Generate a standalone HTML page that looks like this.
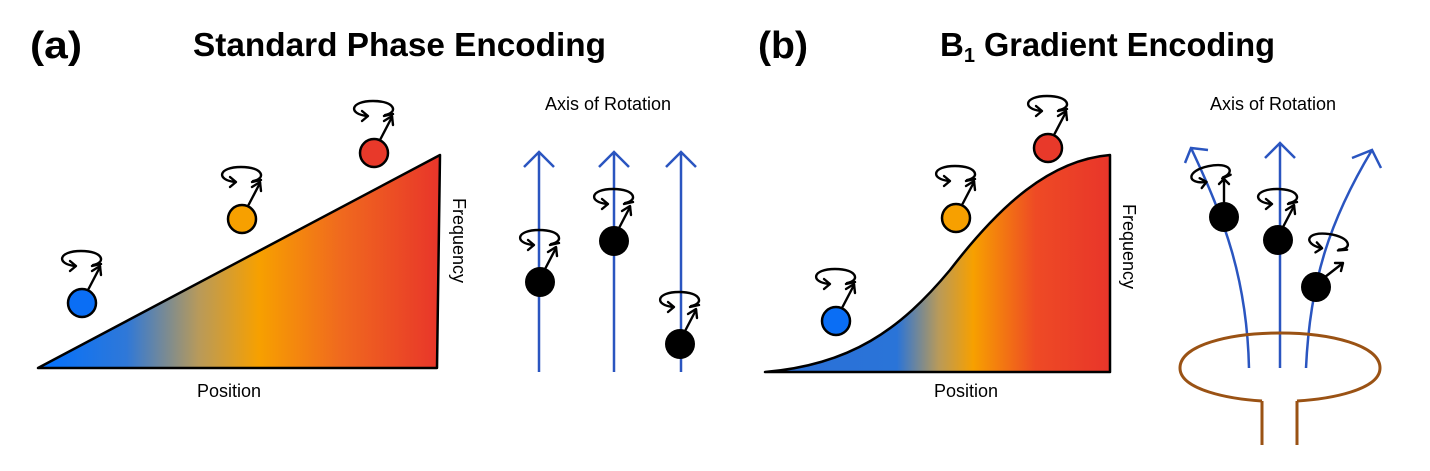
<!DOCTYPE html>
<html><head><meta charset="utf-8"><style>
html,body{margin:0;padding:0;background:#fff;}
svg{display:block;font-family:"Liberation Sans",Arial,sans-serif;}
</style></head><body>
<svg width="1430" height="471" viewBox="0 0 1430 471" xmlns="http://www.w3.org/2000/svg">
<defs>
<linearGradient id="ga" x1="38" y1="0" x2="440" y2="0" gradientUnits="userSpaceOnUse">
<stop offset="0" stop-color="#0070ff"/><stop offset="0.22" stop-color="#2f78d8"/>
<stop offset="0.4" stop-color="#b89a5a"/><stop offset="0.55" stop-color="#f7a000"/>
<stop offset="0.75" stop-color="#f06a1e"/><stop offset="1" stop-color="#e8352a"/></linearGradient>
<linearGradient id="gb" x1="765" y1="0" x2="1112" y2="0" gradientUnits="userSpaceOnUse">
<stop offset="0" stop-color="#2a6fd8"/><stop offset="0.38" stop-color="#2a74d8"/>
<stop offset="0.5" stop-color="#b89a5a"/><stop offset="0.6" stop-color="#f7a000"/>
<stop offset="0.78" stop-color="#ee4a25"/><stop offset="1" stop-color="#e8352a"/></linearGradient>
<g id="rot" fill="none" stroke="#000" stroke-width="2.4" stroke-linecap="round" stroke-linejoin="round">
<path d="M12,6 C25,4 23,-8 0,-8 C-23,-8 -25,5 -6,7"/>
<path d="M-11,2 L-5,7 L-11,12"/>
<path d="M11,7 L20,5"/>
</g>
<g id="stem" fill="none" stroke="#000" stroke-width="2.4" stroke-linecap="round" stroke-linejoin="round">
<path d="M6,-13 L18,-36"/><path d="M10,-32 L18,-37 L19,-28"/>
</g>
</defs>

<text x="30" y="58" font-size="38" font-weight="bold" textLength="52" lengthAdjust="spacingAndGlyphs">(a)</text>
<text x="193" y="56" font-size="33" font-weight="bold" textLength="413" lengthAdjust="spacingAndGlyphs">Standard Phase Encoding</text>
<text x="758" y="58" font-size="38" font-weight="bold" textLength="50" lengthAdjust="spacingAndGlyphs">(b)</text>
<text x="940" y="56" font-size="33" font-weight="bold">B<tspan font-size="20" dy="6">1</tspan><tspan dy="-6" textLength="300" lengthAdjust="spacingAndGlyphs"> Gradient Encoding</tspan></text>

<!-- panel a -->
<path d="M38,368 L440,155 L437,368 Z" fill="url(#ga)" stroke="#000" stroke-width="2.5" stroke-linejoin="round"/>
<text x="197" y="397" font-size="18">Position</text>
<text transform="translate(453,198) rotate(90)" font-size="18">Frequency</text>

<g transform="translate(82,303)"><circle r="14" fill="#0a6ef5" stroke="#000" stroke-width="2.5"/><use href="#stem"/><use href="#rot" transform="translate(-1,-44)"/></g>
<g transform="translate(242,219)"><circle r="14" fill="#f7a000" stroke="#000" stroke-width="2.5"/><use href="#stem"/><use href="#rot" transform="translate(-1,-44)"/></g>
<g transform="translate(374,153)"><circle r="14" fill="#e8392a" stroke="#000" stroke-width="2.5"/><use href="#stem"/><use href="#rot" transform="translate(-1,-44)"/></g>

<text x="545" y="110" font-size="18">Axis of Rotation</text>
<g fill="none" stroke="#2a55c0" stroke-width="2.5">
<path d="M539,372 V152 M524,167 L539,152 L554,167"/>
<path d="M614,372 V152 M599,167 L614,152 L629,167"/>
<path d="M681,372 V152 M666,167 L681,152 L696,167"/>
</g>
<g transform="translate(540,282)"><circle r="15" fill="#000"/><use href="#stem" transform="translate(-2,2)"/><use href="#rot" transform="translate(-1,-44)"/></g>
<g transform="translate(614,241)"><circle r="15" fill="#000"/><use href="#stem" transform="translate(-2,2)"/><use href="#rot" transform="translate(-1,-44)"/></g>
<g transform="translate(680,344)"><circle r="15" fill="#000"/><use href="#stem" transform="translate(-2,2)"/><use href="#rot" transform="translate(-1,-44)"/></g>

<!-- panel b -->
<path d="M765,372 C850,365 900,330 950,270 C1000,205 1050,160 1110,155 L1110,372 Z" fill="url(#gb)" stroke="#000" stroke-width="2.5" stroke-linejoin="round"/>
<text x="934" y="397" font-size="18">Position</text>
<text transform="translate(1123,204) rotate(90)" font-size="18">Frequency</text>

<g transform="translate(836,321)"><circle r="14" fill="#0a6ef5" stroke="#000" stroke-width="2.5"/><use href="#stem"/><use href="#rot" transform="translate(-1,-44)"/></g>
<g transform="translate(956,218)"><circle r="14" fill="#f7a000" stroke="#000" stroke-width="2.5"/><use href="#stem"/><use href="#rot" transform="translate(-1,-44)"/></g>
<g transform="translate(1048,148)"><circle r="14" fill="#e8392a" stroke="#000" stroke-width="2.5"/><use href="#stem"/><use href="#rot" transform="translate(-1,-44)"/></g>

<text x="1210" y="110" font-size="18">Axis of Rotation</text>
<g fill="none" stroke="#2a55c0" stroke-width="2.5">
<path d="M1249,368 C1247,280 1225,220 1191,148 M1185,163 L1191,148 L1208,150"/>
<path d="M1280,368 V143 M1265,158 L1280,143 L1295,158"/>
<path d="M1306,368 C1310,280 1330,220 1372,150 M1352,158 L1372,150 L1381,168"/>
</g>
<g fill="none" stroke="#9a5214" stroke-width="3">
<path d="M1262,401 C1230,399 1180,390 1180,368 C1180,345 1230,333 1280,333 C1330,333 1380,345 1380,368 C1380,390 1330,399 1297,401"/>
<path d="M1262,401 V445 M1297,401 V445"/>
</g>
<g transform="translate(1224,217)"><circle r="15" fill="#000"/>
<g fill="none" stroke="#000" stroke-width="2.4" stroke-linecap="round" stroke-linejoin="round"><path d="M0,-14 V-38 M-5,-33 L0,-38 L5,-33"/></g>
<use href="#rot" transform="translate(-14,-43) rotate(-12)"/></g>
<g transform="translate(1278,240)"><circle r="15" fill="#000"/><use href="#stem" transform="translate(-2,2)"/><use href="#rot" transform="translate(-1,-43)"/></g>
<g transform="translate(1316,287)"><circle r="15" fill="#000"/>
<g fill="none" stroke="#000" stroke-width="2.4" stroke-linecap="round" stroke-linejoin="round"><path d="M9,-10 L27,-24 M19,-24 L27,-24 L25,-16"/></g>
<use href="#rot" transform="translate(12,-45) rotate(8)"/></g>
</svg>
</body></html>
